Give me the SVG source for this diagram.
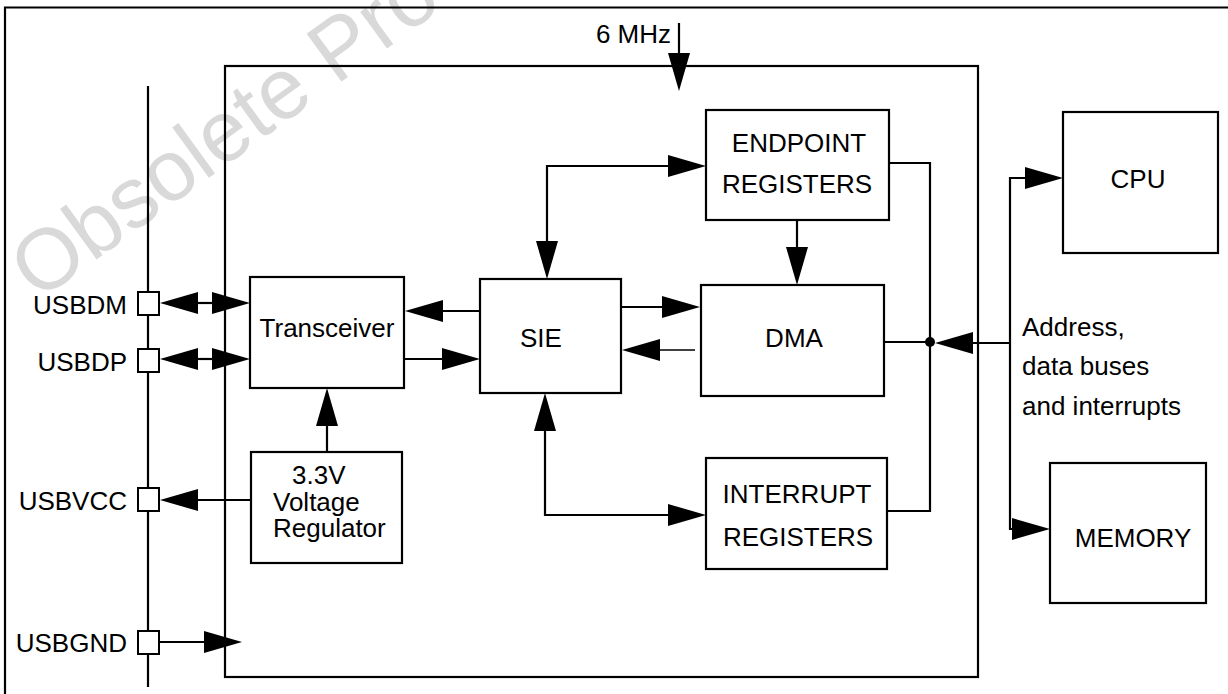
<svg xmlns="http://www.w3.org/2000/svg" xmlns:xlink="http://www.w3.org/1999/xlink" width="1228" height="694" viewBox="0 0 1228 694">
<style>
.box{fill:#fff;stroke:#000;stroke-width:2.2}
.pin{fill:#fff;stroke:#000;stroke-width:2}
.ln{fill:none;stroke:#000;stroke-width:2.2}
.thin{fill:none;stroke:#000;stroke-width:1.4}
.ah{fill:#000;stroke:none}
text{font-family:"Liberation Sans",Arial,Helvetica,sans-serif;font-size:26px;fill:#000}
.mid{text-anchor:middle}
.end{text-anchor:end}
.wm{font-size:86px;fill:#d9d9d9}
</style>
<defs>
<path id="ah" class="ah" d="M0,0 L-38,-11 L-38,11 Z"/>
</defs>
<rect width="1228" height="694" fill="#fff"/>
<text class="wm" transform="translate(38,302) rotate(-36)">Obsolete Product(s)</text>

<g id="frame">
<path class="ln" d="M5,694 V7.5 H1228"/>
<line class="ln" x1="148" y1="86" x2="148" y2="687"/>
</g>

<g id="usb-block">
<rect class="ln" x="225" y="66" width="753" height="611"/>
</g>

<g id="connectors">
<!-- 6 MHz clock -->
<line class="ln" x1="679" y1="23" x2="679" y2="60"/>
<use xlink:href="#ah" href="#ah" transform="translate(679,91) rotate(90)"/>
<!-- USBDM -->
<line class="ln" x1="190" y1="303" x2="220" y2="303"/>
<use xlink:href="#ah" href="#ah" transform="translate(160,303) rotate(180)"/>
<use xlink:href="#ah" href="#ah" transform="translate(250,303)"/>
<!-- USBDP -->
<line class="ln" x1="190" y1="359" x2="220" y2="359"/>
<use xlink:href="#ah" href="#ah" transform="translate(160,359) rotate(180)"/>
<use xlink:href="#ah" href="#ah" transform="translate(250,359)"/>
<!-- SIE -> Transceiver -->
<line class="ln" x1="435" y1="311" x2="480" y2="311"/>
<use xlink:href="#ah" href="#ah" transform="translate(405,311) rotate(180)"/>
<!-- Transceiver -> SIE -->
<line class="ln" x1="404" y1="359" x2="450" y2="359"/>
<use xlink:href="#ah" href="#ah" transform="translate(480,359)"/>
<!-- SIE -> DMA -->
<line class="ln" x1="621" y1="307" x2="670" y2="307"/>
<use xlink:href="#ah" href="#ah" transform="translate(700,307)"/>
<!-- DMA -> SIE -->
<line class="thin" x1="650" y1="350" x2="695" y2="350"/>
<use xlink:href="#ah" href="#ah" transform="translate(622,350) rotate(180)"/>
<!-- SIE <-> ENDPOINT -->
<path class="ln" d="M547,250 V166 H676"/>
<use xlink:href="#ah" href="#ah" transform="translate(547,279) rotate(90)"/>
<use xlink:href="#ah" href="#ah" transform="translate(706,166)"/>
<!-- ENDPOINT -> DMA -->
<line class="ln" x1="797" y1="220" x2="797" y2="256"/>
<use xlink:href="#ah" href="#ah" transform="translate(797,285) rotate(90)"/>
<!-- Regulator -> Transceiver -->
<line class="ln" x1="327" y1="452" x2="327" y2="418"/>
<use xlink:href="#ah" href="#ah" transform="translate(327,388) rotate(-90)"/>
<!-- SIE <-> INTERRUPT -->
<path class="ln" d="M545,423 V515 H676"/>
<use xlink:href="#ah" href="#ah" transform="translate(545,393) rotate(-90)"/>
<use xlink:href="#ah" href="#ah" transform="translate(706,515)"/>
<!-- Regulator -> USBVCC -->
<line class="ln" x1="190" y1="500" x2="251" y2="500"/>
<use xlink:href="#ah" href="#ah" transform="translate(160,500) rotate(180)"/>
<!-- USBGND -> block -->
<line class="ln" x1="159" y1="642" x2="212" y2="642"/>
<use xlink:href="#ah" href="#ah" transform="translate(242,642)"/>
<!-- registers / DMA to internal bus -->
<path class="ln" d="M889,163 H930 V511 H887"/>
<line class="ln" x1="884" y1="342" x2="930" y2="342"/>
<circle cx="930" cy="342" r="5" fill="#000"/>
<!-- external bus -->
<line class="ln" x1="960" y1="343" x2="1010" y2="343"/>
<use xlink:href="#ah" href="#ah" transform="translate(935,343) rotate(180)"/>
<path class="ln" d="M1035,178 H1010 V529 H1022"/>
<use xlink:href="#ah" href="#ah" transform="translate(1063,178)"/>
<use xlink:href="#ah" href="#ah" transform="translate(1050,529)"/>
</g>

<g id="clock-label"><text class="end" x="671" y="43">6 MHz</text></g>

<g id="pin-usbdm"><rect class="pin" x="138" y="292" width="21" height="23"/><text class="end" x="127" y="314">USBDM</text></g>
<g id="pin-usbdp"><rect class="pin" x="138" y="349" width="21" height="23"/><text class="end" x="127" y="371">USBDP</text></g>
<g id="pin-usbvcc"><rect class="pin" x="138" y="488" width="21" height="23"/><text class="end" x="127" y="510">USBVCC</text></g>
<g id="pin-usbgnd"><rect class="pin" x="138" y="631" width="21" height="23"/><text class="end" x="127" y="652">USBGND</text></g>

<g id="transceiver"><rect class="box" x="250" y="277" width="154" height="111"/><text class="mid" x="327" y="337">Transceiver</text></g>
<g id="sie"><rect class="box" x="480" y="279" width="141" height="114"/><text x="520" y="347">SIE</text></g>
<g id="dma"><rect class="box" x="701" y="285" width="183" height="111"/><text class="mid" x="794" y="347">DMA</text></g>
<g id="endpoint-registers"><rect class="box" x="706" y="110" width="183" height="110"/><text class="mid" x="799" y="152">ENDPOINT</text><text class="mid" x="797" y="193">REGISTERS</text></g>
<g id="interrupt-registers"><rect class="box" x="706" y="458" width="181" height="111"/><text class="mid" x="797" y="503">INTERRUPT</text><text class="mid" x="798" y="546">REGISTERS</text></g>
<g id="voltage-regulator"><rect class="box" x="251" y="452" width="151" height="111"/><text x="292" y="484">3.3V</text><text x="273" y="511">Voltage</text><text x="273" y="537">Regulator</text></g>
<g id="cpu"><rect class="box" x="1063" y="112" width="155" height="141"/><text class="mid" x="1138" y="188">CPU</text></g>
<g id="memory"><rect class="box" x="1050" y="463" width="156" height="140"/><text class="mid" x="1133" y="547">MEMORY</text></g>
<g id="bus-label"><text x="1022" y="336">Address,</text><text x="1022" y="375">data buses</text><text x="1022" y="415">and interrupts</text></g>
</svg>
